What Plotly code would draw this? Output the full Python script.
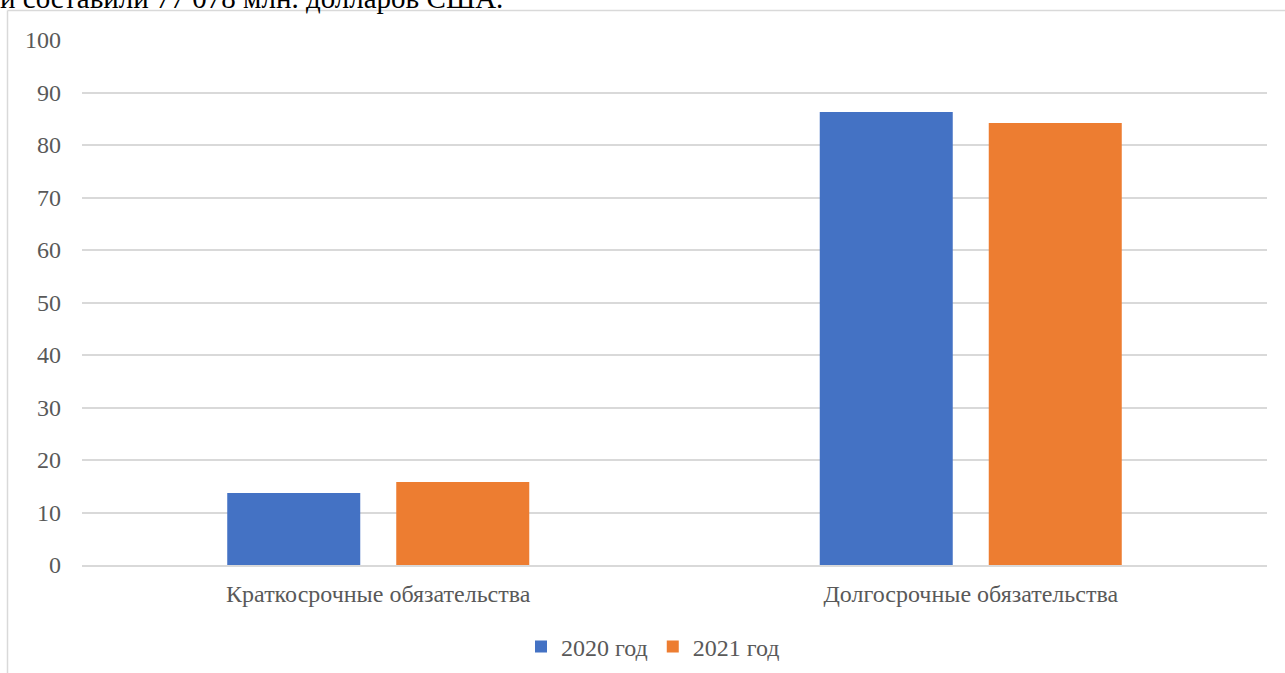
import plotly.graph_objects as go

categories = ["Краткосрочные обязательства", "Долгосрочные обязательства"]
series_names = ["2020 год", "2021 год"]
values_2020 = [13.7, 86.3]
values_2021 = [15.8, 84.2]
y_ticks = [0, 10, 20, 30, 40, 50, 60, 70, 80, 90, 100]
top_text = "и составили 77 078 млн. долларов США."

W, H = 1285, 673
L, R, T, B = 82, 18, 40, 108
pw, ph = W - L - R, H - T - B

def px_x(x):
    return (x - L) / pw

def px_y(y):
    return (H - B - y) / ph

FONT = '"Liberation Serif", "Times New Roman", Times, serif'
GREY = "#595959"
LINE = "#d9d9d9"
FS = 24

fig = go.Figure()
fig.add_trace(go.Bar(x=categories, y=values_2020, name=series_names[0],
                     marker=dict(color="#4472C4", line=dict(width=0))))
fig.add_trace(go.Bar(x=categories, y=values_2021, name=series_names[1],
                     marker=dict(color="#ED7D31", line=dict(width=0))))

fig.update_layout(
    width=W, height=H,
    margin=dict(l=L, r=R, t=T, b=B, pad=0, autoexpand=False),
    paper_bgcolor="white", plot_bgcolor="white",
    barmode="group", bargap=0.4295, bargroupgap=0.213,
    font=dict(family=FONT, size=FS, color=GREY),
    showlegend=True,
    legend=dict(orientation="h", x=px_x(653), xanchor="center",
                y=px_y(647), yanchor="middle",
                font=dict(family=FONT, size=FS, color=GREY),
                itemsizing="constant", traceorder="normal"),
    xaxis=dict(showgrid=False, showline=True, linecolor=LINE, linewidth=1.5,
               ticks="", ticklabelstandoff=6,
               tickfont=dict(family=FONT, size=FS, color=GREY)),
    yaxis=dict(range=[0, 100], tickvals=y_ticks, showgrid=True,
               gridcolor=LINE, gridwidth=1.5, zeroline=False, showline=False,
               ticks="", ticklabelstandoff=20,
               tickfont=dict(family=FONT, size=FS, color=GREY)),
    shapes=[
        dict(type="line", xref="paper", yref="paper",
             x0=px_x(7.5), x1=px_x(W + 5), y0=px_y(10.5), y1=px_y(10.5),
             line=dict(color=LINE, width=1.5)),
        dict(type="line", xref="paper", yref="paper",
             x0=px_x(7.5), x1=px_x(7.5), y0=px_y(10.5), y1=px_y(H + 5),
             line=dict(color=LINE, width=1.5)),
    ],
    annotations=[
        dict(text=top_text, xref="paper", yref="paper",
             x=px_x(-2), xanchor="left", y=px_y(16), yanchor="bottom",
             showarrow=False, font=dict(family=FONT, size=29, color="black")),
    ],
)

fig.write_html("out.html")
